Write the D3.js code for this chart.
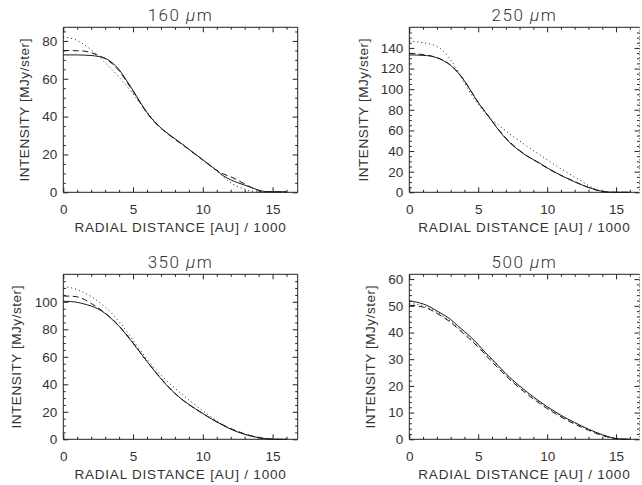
<!DOCTYPE html>
<html><head><meta charset="utf-8">
<script src="https://cdn.jsdelivr.net/npm/d3@7"></script>
<style>
body{margin:0;background:#fff;}
text{font-family:"Liberation Sans",Arial,Helvetica,sans-serif;fill:#333;}
.ttl{font-family:Roboto,"Liberation Sans",Arial,sans-serif;font-weight:300;}
</style>
</head><body>
<svg id="c" width="642" height="485"></svg>
<script>
// ---------- data ----------
const radius = [0,0.5,1,1.5,2,2.5,3,3.5,4,4.5,5,5.5,6,6.5,7,7.5,8,8.5,9,9.5,10,10.5,11,11.5,12,12.5,13,13.5,14,14.5,15,15.5,16];

const wavelengths = ["160", "250", "350", "500"];

const solid160  = [72.6,72.6,72.6,72.5,72.3,71.8,70.8,68.5,64.8,59.5,53.8,47.8,42.2,37.6,34.0,31.0,28.3,25.6,22.8,20.0,17.2,14.4,11.5,8.6,6.6,5.1,3.8,2.5,1.1,0.4,0.3,0.3,0.3];
const dashed160 = [74.9,74.9,74.8,74.6,73.8,72.4,70.6,68.0,64.2,58.9,53.3,47.3,41.9,37.4,33.8,30.8,28.0,25.4,22.6,19.8,17.0,14.2,11.6,9.6,8.2,6.4,4.4,2.4,0.9,0.3,0.2,0.2,0.2];
const dotted160 = [82.0,81.5,80.2,78.0,75.3,72.0,68.5,64.8,60.8,56.5,52.0,47.2,42.5,37.8,34.0,31.0,28.2,25.5,22.7,19.9,17.1,14.2,11.2,8.0,5.0,3.0,1.6,0.6,0.2,0.1,0.1,0.1,0.1];

const solid250  = [133.2,133.1,132.8,132.2,130.5,127.5,123.0,116.5,108.0,97.5,87.0,78.0,69.0,60.0,52.0,45.5,40.2,35.5,31.7,28.0,23.8,20.0,16.5,13.2,10.1,7.3,4.8,2.6,1.0,0.2,0,0,0];
const dashed250 = [134.8,134.3,133.5,132.5,130.6,127.8,123.3,116.8,108.3,97.8,87.3,78.3,69.3,60.5,52.7,46.2,40.6,35.6,31.5,27.6,23.4,19.8,16.4,13.4,10.4,7.3,4.6,2.4,0.8,0.1,0,0,0];
const dotted250 = [146.5,146.0,145.0,143.8,141.5,136.5,128.5,118.0,106.0,95.0,85.0,77.0,70.5,64.8,59.6,54.4,49.8,45.0,40.5,36.0,31.5,27.0,22.8,18.8,14.8,10.8,6.5,3.0,0.5,0,0,0,0];

const solid350  = [100.4,100.2,99.6,98.4,96.9,94.8,91.5,87.2,82.2,76.2,69.8,63.2,56.6,50.2,44.0,38.4,33.4,29.1,25.4,22.0,18.8,15.6,12.6,9.9,7.4,5.3,3.6,2.3,1.2,0.5,0.1,0,0];
const dashed350 = [104.2,104.1,103.6,101.8,98.8,95.6,91.8,87.6,82.4,76.6,70.2,63.4,56.6,50.4,44.4,38.6,33.4,29.0,25.2,21.8,18.6,15.6,12.8,10.2,7.8,5.8,3.9,2.5,1.3,0.5,0.1,0,0];
const dotted350 = [110.8,110.3,108.8,106.6,103.8,100.3,96.2,91.4,85.6,79.0,72.0,65.0,58.4,52.4,46.8,41.8,37.2,32.8,28.6,24.6,20.8,17.0,13.4,10.2,7.6,5.4,3.6,2.2,1.0,0.3,0,0,0];

const solid500  = [51.7,51.4,50.7,49.6,48.1,46.6,44.9,42.6,40.4,38.1,35.5,32.6,30.0,27.3,24.6,22.2,20.0,17.9,15.9,14.0,12.2,10.6,9.0,7.6,6.3,5.0,3.8,2.7,1.7,0.9,0.3,0.1,0];
const dashed500 = [50.2,50.0,49.5,48.6,47.2,45.6,43.8,41.6,39.3,37.0,34.5,31.8,29.0,26.4,23.8,21.4,19.2,17.1,15.1,13.3,11.5,9.9,8.4,7.0,5.7,4.5,3.4,2.3,1.4,0.7,0.2,0,0];
const dotted500 = [50.8,50.6,50.0,49.0,47.6,46.0,44.2,42.0,39.8,37.5,35.0,32.2,29.6,26.9,24.3,21.9,19.7,17.6,15.6,13.7,11.9,10.3,8.7,7.3,6.0,4.8,3.6,2.6,1.6,0.8,0.3,0.1,0];

const xTicks = [0,5,10,15];
const xMinor = [1,2,3,4,6,7,8,9,11,12,13,14,16];
const yTicks160 = [0,20,40,60,80];
const yTicks250 = [0,20,40,60,80,100,120,140];
const yTicks350 = [0,20,40,60,80,100];
const yTicks500 = [0,10,20,30,40,50,60];
const yMinor160 = [5,10,15,25,30,35,45,50,55,65,70,75,85];
const yMinor250 = [5,10,15,25,30,35,45,50,55,65,70,75,85,90,95,105,110,115,125,130,135,145,150,155];
const yMinor350 = [5,10,15,25,30,35,45,50,55,65,70,75,85,90,95,105,110,115];
const yMinor500 = [2,4,6,8,12,14,16,18,22,24,26,28,32,34,36,38,42,44,46,48,52,54,56,58];
const yMax = [87.2, 160, 120, 61.8];

const xTitle = "RADIAL DISTANCE [AU] / 1000";
const yTitle = "INTENSITY [MJy/ster]";

// ---------- layout ----------
const panels = [
  {w:wavelengths[0], s:solid160, d:dashed160, o:dotted160, yt:yTicks160, ym:yMinor160, ymax:yMax[0],
   L:63.3, R:297.7, T:27.3, B:192.3, xmax:16.8, ytx:28.5, right:false},
  {w:wavelengths[1], s:solid250, d:dashed250, o:dotted250, yt:yTicks250, ym:yMinor250, ymax:yMax[1],
   L:409.3, R:639.5, T:27.3, B:192.3, xmax:16.7, ytx:367.5, right:true},
  {w:wavelengths[2], s:solid350, d:dashed350, o:dotted350, yt:yTicks350, ym:yMinor350, ymax:yMax[2],
   L:63.3, R:297.7, T:274.3, B:439.3, xmax:16.8, ytx:20.5, right:false},
  {w:wavelengths[3], s:solid500, d:dashed500, o:dotted500, yt:yTicks500, ym:yMinor500, ymax:yMax[3],
   L:409.3, R:639.5, T:274.3, B:439.3, xmax:16.7, ytx:374.5, right:true}
];

const svg = d3.select("#c");
const ink = "#222";
const txt = "#333";

panels.forEach(p => {
  const x = d3.scaleLinear().domain([0, p.xmax]).range([p.L, p.R]);
  const y = d3.scaleLinear().domain([0, p.ymax]).range([p.B, p.T]);
  const g = svg.append("g");

  const styleAxis = sel => {
    sel.select(".domain").remove();
    sel.selectAll("line").attr("stroke", ink).attr("stroke-width", 1);
    sel.selectAll("text").attr("font-size", 13.5).attr("fill", txt)
       .attr("font-family", '"Liberation Sans",Arial,sans-serif');
  };

  // bottom
  g.append("g").attr("transform", `translate(0,${p.B})`)
    .call(d3.axisBottom(x).tickValues(xTicks).tickSize(-5).tickPadding(12).tickFormat(d3.format("d"))).call(styleAxis);
  g.append("g").attr("transform", `translate(0,${p.B})`)
    .call(d3.axisBottom(x).tickValues(xMinor.filter(v => v <= p.xmax)).tickSize(-2.5).tickFormat("")).call(styleAxis);
  // top
  g.append("g").attr("transform", `translate(0,${p.T})`)
    .call(d3.axisTop(x).tickValues(xTicks).tickSize(-5).tickFormat("")).call(styleAxis);
  g.append("g").attr("transform", `translate(0,${p.T})`)
    .call(d3.axisTop(x).tickValues(xMinor.filter(v => v <= p.xmax)).tickSize(-2.5).tickFormat("")).call(styleAxis);
  // left
  g.append("g").attr("transform", `translate(${p.L},0)`)
    .call(d3.axisLeft(y).tickValues(p.yt).tickSize(-5).tickPadding(6).tickFormat(d3.format("d"))).call(styleAxis);
  g.append("g").attr("transform", `translate(${p.L},0)`)
    .call(d3.axisLeft(y).tickValues(p.ym.filter(v => v <= p.ymax)).tickSize(-2.5).tickFormat("")).call(styleAxis);
  // right
  g.append("g").attr("transform", `translate(${p.R},0)`)
    .call(d3.axisRight(y).tickValues(p.yt).tickSize(-5).tickFormat("")).call(styleAxis);
  g.append("g").attr("transform", `translate(${p.R},0)`)
    .call(d3.axisRight(y).tickValues(p.ym.filter(v => v <= p.ymax)).tickSize(-2.5).tickFormat("")).call(styleAxis);

  // frame
  g.append("path")
    .attr("d", `M${p.R},${p.T}H${p.L}V${p.B}H${p.R}`)
    .attr("fill", "none").attr("stroke", ink).attr("stroke-width", 1);
  g.append("line").attr("x1", p.R).attr("x2", p.R).attr("y1", p.T).attr("y2", p.B)
    .attr("stroke", p.right ? "#555" : ink).attr("stroke-width", 1)
    .attr("stroke-dasharray", p.right ? "1,2" : null);

  // curves
  const line = d3.line().x((d, i) => x(radius[i])).y(d => y(d)).curve(d3.curveMonotoneX);
  const series = [
    {v:p.s, dash:null},
    {v:p.d, dash:"6,3.5"},
    {v:p.o, dash:"1,3"}
  ];
  series.forEach(s => {
    g.append("path").datum(s.v).attr("d", line)
      .attr("fill", "none").attr("stroke", "#1a1a1a").attr("stroke-width", 1)
      .attr("stroke-dasharray", s.dash);
  });

  // titles
  const cx = (p.L + p.R) / 2;
  const t = g.append("text").attr("class", "ttl").attr("x", cx).attr("y", p.T - 6.5).attr("text-anchor", "middle")
    .attr("font-size", 17).attr("letter-spacing", "1.5px").attr("fill", "#333");
  t.append("tspan").text(p.w + " ");
  t.append("tspan").attr("font-style", "italic").text("\u03bc");
  t.append("tspan").text("m");

  g.append("text").attr("x", cx).attr("y", p.B + 39.5).attr("text-anchor", "middle")
    .attr("font-size", 13.5).attr("letter-spacing", "0.8px").text(xTitle);

  g.append("text").attr("transform", `translate(${p.ytx},${(p.T + p.B) / 2}) rotate(-90)`)
    .attr("text-anchor", "middle").attr("font-size", 13.5).attr("letter-spacing", "0.55px").text(yTitle);
});
</script>
</body></html>
